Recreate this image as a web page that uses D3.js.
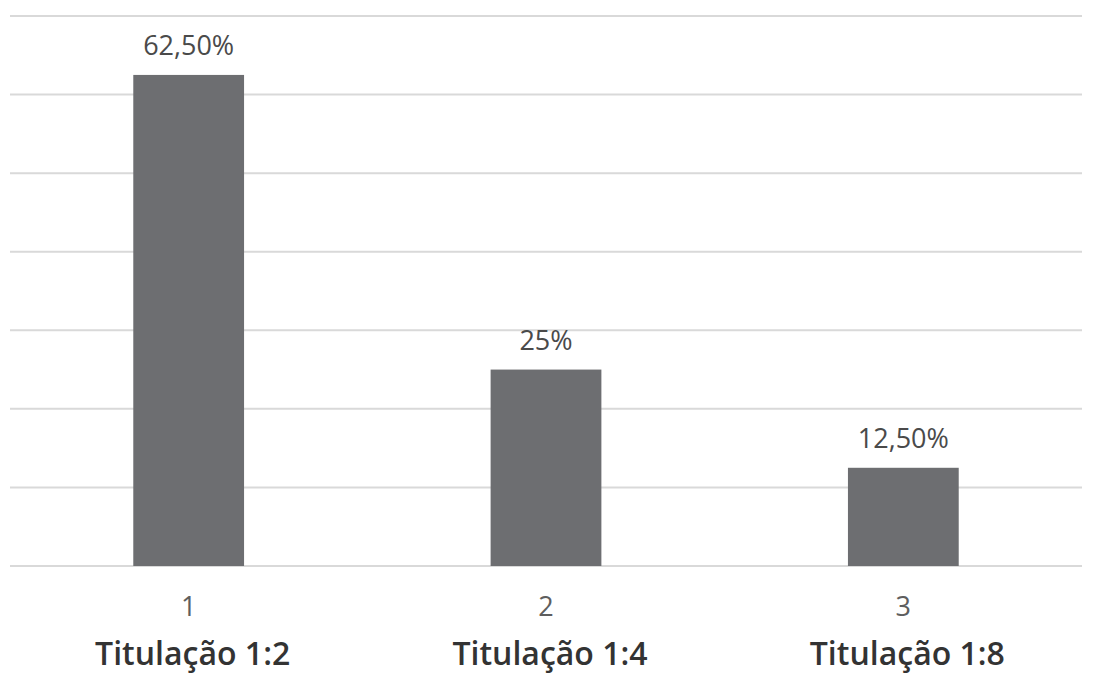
<!DOCTYPE html>
<html>
<head>
<meta charset="utf-8">
<script src="https://cdn.jsdelivr.net/npm/d3@7"></script>
<style>
  html, body { margin: 0; padding: 0; background: #fff; }
  svg { display: block; }
</style>
</head>
<body>
<svg id="chart" width="1100" height="675"></svg>
<script>
// Categories, their numbered ticks and the share of samples per titration
const categories = ["1", "2", "3"];
const titles = ["Titulação 1:2", "Titulação 1:4", "Titulação 1:8"];
const values = [62.5, 25, 12.5];
const valueLabels = ["62,50%", "25%", "12,50%"];
const gridTicks = [0, 10, 20, 30, 40, 50, 60, 70];

const svg = d3.select("#chart");
const margin = { top: 16, right: 18, bottom: 109, left: 10 };
const width = 1100 - margin.left - margin.right;
const height = 675 - margin.top - margin.bottom;

const g = svg.append("g").attr("transform", `translate(${margin.left},${margin.top})`);

const x = d3.scaleBand().domain(categories).range([0, width]).padding(0);
const y = d3.scaleLinear().domain([0, 70]).range([height, 0]);
const barW = x.bandwidth() * 0.31;

// horizontal gridlines
g.append("g")
  .selectAll("line")
  .data(gridTicks)
  .join("line")
  .attr("x1", 0).attr("x2", width)
  .attr("y1", d => y(d)).attr("y2", d => y(d))
  .attr("stroke", "#d9d9d9")
  .attr("stroke-width", 2);

// bars
g.append("g")
  .selectAll("rect")
  .data(values)
  .join("rect")
  .attr("x", (d, i) => x(categories[i]) + x.bandwidth() / 2 - barW / 2)
  .attr("width", barW)
  .attr("y", d => y(d))
  .attr("height", d => y(0) - y(d))
  .attr("fill", "#6d6e71");

// value labels
g.append("g")
  .selectAll("text")
  .data(values)
  .join("text")
  .attr("x", (d, i) => x(categories[i]) + x.bandwidth() / 2)
  .attr("y", d => y(d) - 20)
  .attr("text-anchor", "middle")
  .attr("font-family", "Open Sans, sans-serif")
  .attr("font-size", 27)
  .attr("fill", "#4a4a4a")
  .text((d, i) => valueLabels[i]);

// category axis
const xAxis = g.append("g")
  .attr("transform", `translate(0,${height})`)
  .call(d3.axisBottom(x).tickSize(0).tickPadding(0));
xAxis.select(".domain").remove();
xAxis.selectAll("text")
  .attr("dy", null)
  .attr("y", 50)
  .attr("font-family", "Open Sans, sans-serif")
  .attr("font-size", 27)
  .attr("fill", "#5e5e5e");

// category titles below the ticks
g.append("g")
  .selectAll("text")
  .data(titles)
  .join("text")
  .attr("x", (d, i) => x(categories[i]) + x.bandwidth() / 2 + 4)
  .attr("y", height + 99)
  .attr("text-anchor", "middle")
  .attr("font-family", "Open Sans, sans-serif")
  .attr("font-weight", 600)
  .attr("font-size", 32)
  .attr("fill", "#333")
  .text(d => d);
</script>
</body>
</html>
